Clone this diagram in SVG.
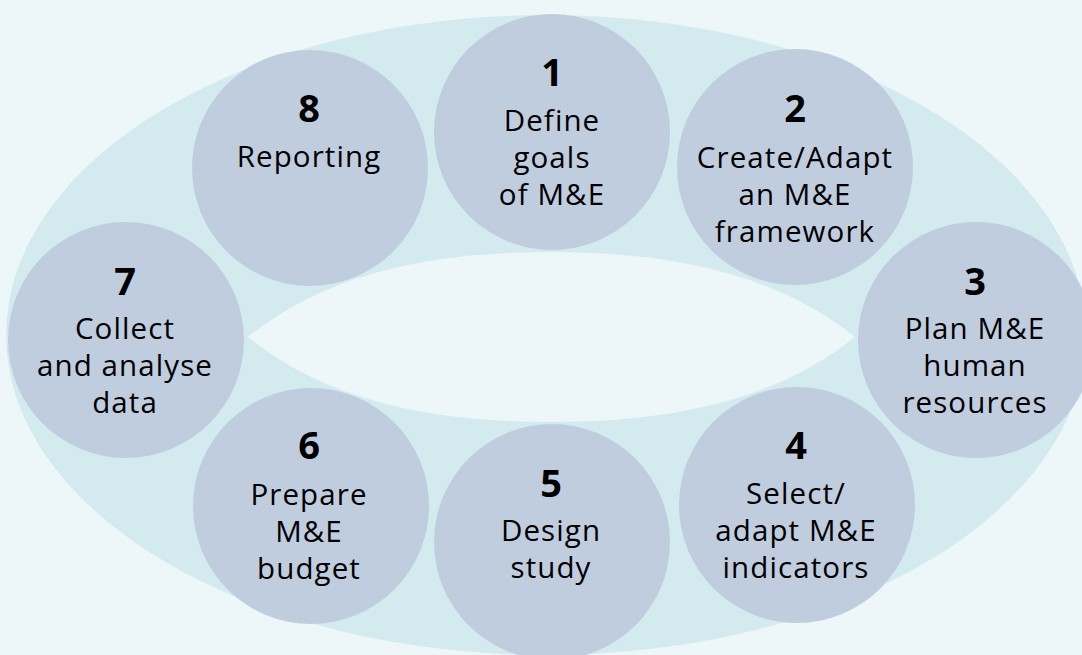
<svg xmlns="http://www.w3.org/2000/svg" width="1082" height="655" viewBox="0 0 1082 655">
<style>
.bg{fill:#edf6f9}
.ring{fill:#d3ebef}
.hole{fill:#edf6f9}
.c{fill:#c0cddf}
.n{font-family:"Open Sans","Liberation Sans",sans-serif;font-weight:700;font-size:38px;fill:#000;text-anchor:middle}
.t{font-family:"Open Sans","Liberation Sans",sans-serif;font-size:29.5px;letter-spacing:1.1px;fill:#000;text-anchor:middle}
</style>
<rect class="bg" x="0" y="0" width="1082" height="655"/>
<ellipse class="ring" cx="546" cy="335" rx="540" ry="320"/>
<path class="hole" d="M248,337 C330,270 440,252 551,252 C662,252 772,270 855,337 C772,404 662,422 551,422 C440,422 330,404 248,337 Z"/>
<g id="connectors"></g>
<g id="node1"><circle class="c" cx="552" cy="132" r="118"/><text class="n" x="552" y="86">1</text><text class="t" x="552" y="131">Define</text><text class="t" x="552" y="168">goals</text><text class="t" x="552" y="205">of M&amp;E</text></g>
<g id="node2"><circle class="c" cx="795" cy="167" r="118"/><text class="n" x="795" y="122">2</text><text class="t" x="795" y="168">Create/Adapt</text><text class="t" x="795" y="205">an M&amp;E</text><text class="t" x="795" y="242">framework</text></g>
<g id="node3"><circle class="c" cx="976" cy="340" r="118"/><text class="n" x="975" y="295">3</text><text class="t" x="975" y="339">Plan M&amp;E</text><text class="t" x="975" y="376">human</text><text class="t" x="975" y="413">resources</text></g>
<g id="node4"><circle class="c" cx="797" cy="505" r="118"/><text class="n" x="796" y="459">4</text><text class="t" x="796" y="504">Select/</text><text class="t" x="796" y="541">adapt M&amp;E</text><text class="t" x="796" y="578">indicators</text></g>
<g id="node5"><circle class="c" cx="552" cy="542" r="118"/><text class="n" x="551" y="497">5</text><text class="t" x="551" y="541">Design</text><text class="t" x="551" y="578">study</text></g>
<g id="node6"><circle class="c" cx="311" cy="506" r="118"/><text class="n" x="309" y="459">6</text><text class="t" x="309" y="505">Prepare</text><text class="t" x="309" y="542">M&amp;E</text><text class="t" x="309" y="579">budget</text></g>
<g id="node7"><circle class="c" cx="126" cy="340" r="118"/><text class="n" x="125" y="295">7</text><text class="t" x="125" y="339">Collect</text><text class="t" x="125" y="376">and analyse</text><text class="t" x="125" y="413">data</text></g>
<g id="node8"><circle class="c" cx="310" cy="168" r="118"/><text class="n" x="309" y="122">8</text><text class="t" x="309" y="167">Reporting</text></g>
</svg>
